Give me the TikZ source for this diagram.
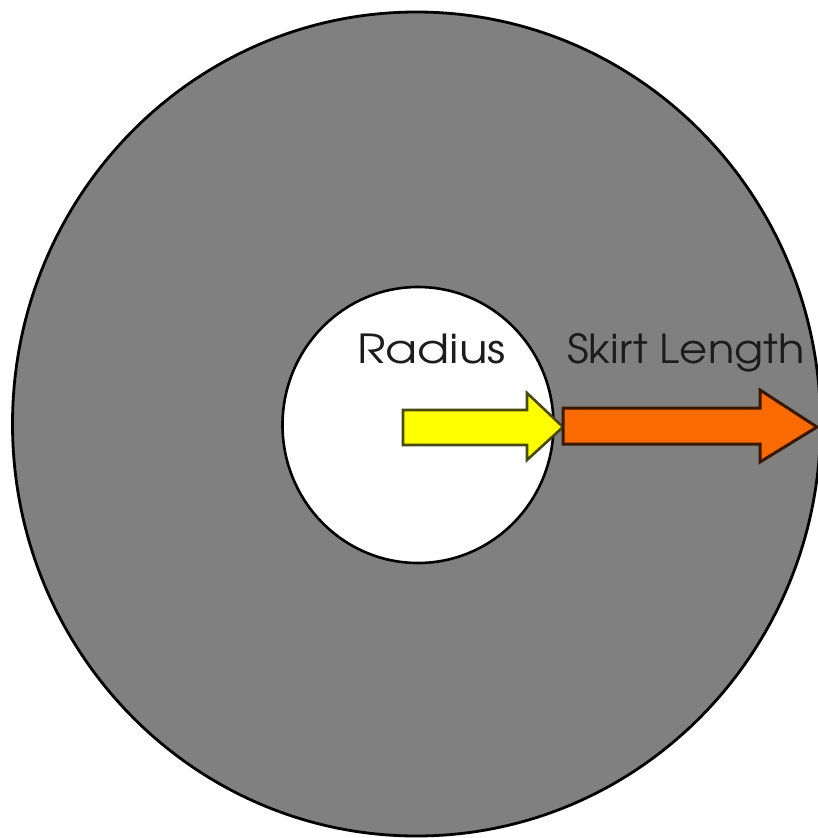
\documentclass[tikz,border=0pt]{standalone}
\usepackage{fontspec}
\setmainfont{texgyreadventor-regular.otf}
\definecolor{diskgray}{HTML}{808080}
\definecolor{arrowyellow}{HTML}{FFFF00}
\definecolor{yellowline}{HTML}{4A4A10}
\definecolor{arroworange}{HTML}{F96A00}
\definecolor{orangeline}{HTML}{3A1800}
\definecolor{labeltext}{HTML}{1C1C1C}
\tikzset{
  disk/.style={fill=diskgray, draw=black, line width=2.8pt},
  hole/.style={fill=white, draw=black, line width=2.6pt},
  yarrow/.style={fill=arrowyellow, draw=yellowline, line width=2.6pt, line join=miter},
  oarrow/.style={fill=arroworange, draw=orangeline, line width=3pt, line join=miter},
  lbl/.style={text=labeltext, font=\fontsize{40}{44}\selectfont, inner sep=0pt, anchor=base west}
}
\begin{document}
\begin{tikzpicture}[x=1pt,y=-1pt]
\useasboundingbox (0,0) rectangle (818,838);
\fill[white] (0,0) rectangle (818,838);
\draw[disk] (416.5,424) ellipse [x radius=404, y radius=412];
\draw[hole] (418,425) ellipse [x radius=135.5, y radius=138];
\draw[yarrow] (403,410) -- (527,410) -- (527,393) -- (563,427) -- (527,460) -- (527,445) -- (403,445) -- cycle;
\draw[oarrow] (563,408) -- (760,408) -- (760,390) -- (817,427) -- (760,462) -- (760,444) -- (563,444) -- cycle;
\node[lbl, xscale=1.17] (radius) at (357,363) {Radius};
\node[lbl, xscale=1.08] (skirt) at (567,363) {Skirt Length};
\end{tikzpicture}
\end{document}
